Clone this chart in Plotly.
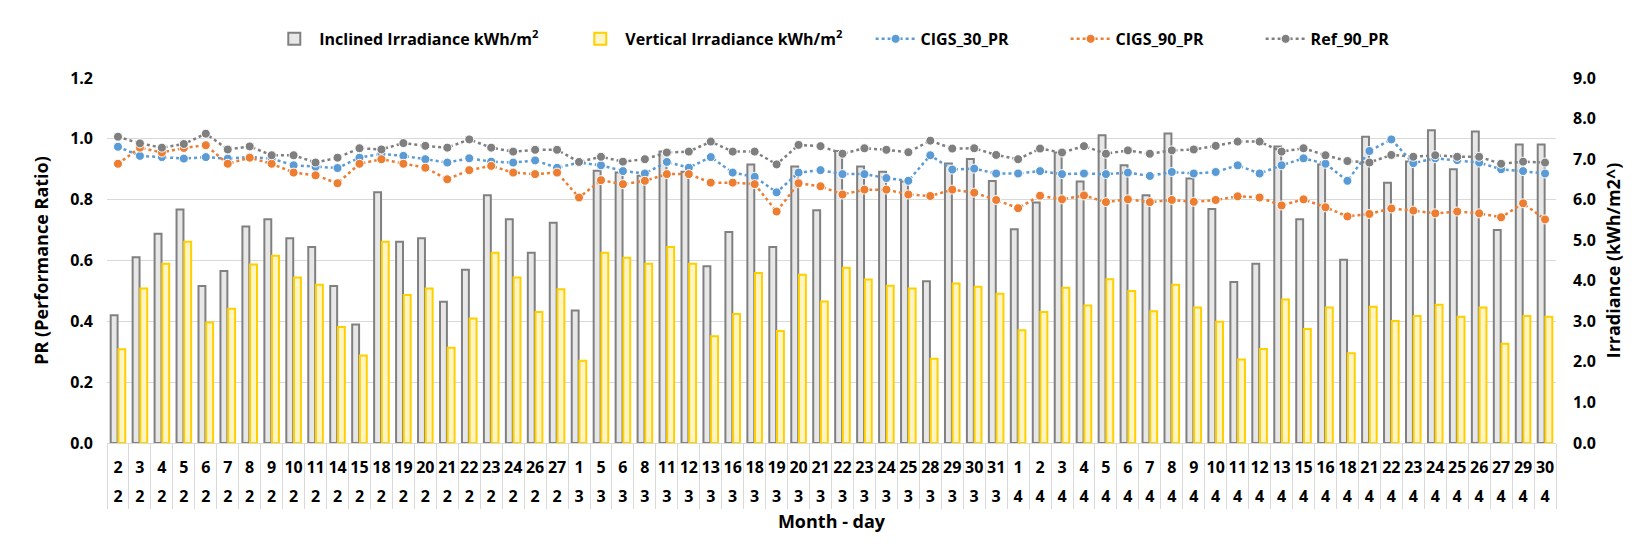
import plotly.graph_objects as go

days = [2, 3, 4, 5, 6, 7, 8, 9, 10, 11, 14, 15, 18, 19, 20, 21, 22, 23, 24, 26, 27,
        1, 5, 6, 8, 11, 12, 13, 16, 18, 19, 20, 21, 22, 23, 24, 25, 28, 29, 30, 31,
        1, 2, 3, 4, 5, 6, 7, 8, 9, 10, 11, 12, 13, 15, 16, 18, 21, 22, 23, 24, 25, 26, 27, 29, 30]
months = [2, 2, 2, 2, 2, 2, 2, 2, 2, 2, 2, 2, 2, 2, 2, 2, 2, 2, 2, 2, 2,
          3, 3, 3, 3, 3, 3, 3, 3, 3, 3, 3, 3, 3, 3, 3, 3, 3, 3, 3, 3,
          4, 4, 4, 4, 4, 4, 4, 4, 4, 4, 4, 4, 4, 4, 4, 4, 4, 4, 4, 4, 4, 4, 4, 4, 4]

inclined = [3.15, 4.58, 5.16, 5.76, 3.87, 4.24, 5.34, 5.52, 5.05, 4.83, 3.87, 2.92, 6.18, 4.96, 5.05, 3.48,
            4.27, 6.11, 5.52, 4.69, 5.43, 3.27, 6.71, 6.67,
            6.59, 7.19, 6.69, 4.36, 5.20, 6.87, 4.83, 6.82, 5.74, 7.20, 6.82, 6.69, 6.45, 3.99, 6.89, 7.00,
            6.46, 5.27, 5.93, 7.16, 6.45,
            7.59, 6.85, 6.11, 7.63, 6.52, 5.77, 3.97, 4.42, 7.31, 5.52, 6.87, 4.52, 7.55, 6.42, 6.94, 7.71,
            6.75, 7.68, 5.25, 7.36, 7.36]
vertical = [2.31, 3.81, 4.42, 4.96, 2.97, 3.31, 4.40, 4.62, 4.08, 3.90, 2.86, 2.16, 4.96, 3.65, 3.81, 2.35,
            3.07, 4.69, 4.08, 3.23, 3.79, 2.03, 4.69, 4.57,
            4.42, 4.83, 4.42, 2.63, 3.18, 4.19, 2.76, 4.15, 3.49, 4.32, 4.03, 3.88, 3.81, 2.08, 3.93, 3.85,
            3.68, 2.78, 3.23, 3.83, 3.39,
            4.04, 3.75, 3.25, 3.90, 3.34, 2.99, 2.06, 2.32, 3.54, 2.81, 3.34, 2.21, 3.36, 3.01, 3.13, 3.41,
            3.11, 3.34, 2.45, 3.13, 3.11]
cigs30 = [0.974, 0.944, 0.940, 0.935, 0.940, 0.935, 0.940, 0.935, 0.913, 0.908, 0.904, 0.938, 0.951, 0.944,
          0.933, 0.922, 0.936, 0.925, 0.922, 0.929, 0.905, 0.922, 0.913, 0.894,
          0.886, 0.924, 0.905, 0.940, 0.889, 0.875, 0.824, 0.889, 0.897, 0.884, 0.884, 0.871, 0.862, 0.946,
          0.899, 0.902, 0.886, 0.886, 0.894, 0.884, 0.886,
          0.884, 0.889, 0.878, 0.891, 0.886, 0.891, 0.913, 0.886, 0.913, 0.936, 0.918, 0.862, 0.960, 0.998,
          0.920, 0.936, 0.930, 0.922, 0.900, 0.894, 0.886]
cigs90 = [0.918, 0.971, 0.955, 0.970, 0.979, 0.918, 0.938, 0.918, 0.889, 0.880, 0.854, 0.918, 0.933, 0.918,
          0.905, 0.867, 0.897, 0.911, 0.889, 0.884, 0.889, 0.807, 0.864, 0.851,
          0.862, 0.884, 0.884, 0.856, 0.856, 0.851, 0.761, 0.854, 0.844, 0.817, 0.833, 0.833, 0.817, 0.812,
          0.833, 0.823, 0.799, 0.772, 0.813, 0.801, 0.814,
          0.792, 0.801, 0.792, 0.799, 0.793, 0.799, 0.811, 0.807, 0.781, 0.801, 0.775, 0.745, 0.753, 0.771,
          0.764, 0.755, 0.761, 0.755, 0.742, 0.788, 0.735]
ref90 = [1.007, 0.985, 0.971, 0.983, 1.017, 0.965, 0.975, 0.946, 0.946, 0.922, 0.938, 0.969, 0.965, 0.986,
         0.977, 0.971, 0.998, 0.971, 0.958, 0.964, 0.964, 0.924, 0.941, 0.925,
         0.933, 0.955, 0.958, 0.991, 0.958, 0.958, 0.916, 0.980, 0.976, 0.951, 0.969, 0.964, 0.956, 0.994,
         0.968, 0.969, 0.947, 0.933, 0.968, 0.955, 0.976,
         0.951, 0.962, 0.951, 0.962, 0.965, 0.977, 0.991, 0.991, 0.958, 0.969, 0.946, 0.927, 0.922, 0.947,
         0.941, 0.946, 0.941, 0.941, 0.918, 0.925, 0.922]

cats = [f"{m}-{d}" for m, d in zip(months, days)]
xrange = [-0.5, len(cats) - 0.5]
FONT = "Open Sans, Arial, sans-serif"

fig = go.Figure()
fig.add_trace(go.Bar(x=cats, y=inclined, name="Inclined Irradiance kWh/m<sup>2</sup>", yaxis="y",
                     legend="legend",
                     marker=dict(color="#E7E7E7", line=dict(color="#808080", width=2))))
fig.add_trace(go.Bar(x=cats, y=vertical, name="Vertical Irradiance kWh/m<sup>2</sup>", yaxis="y",
                     legend="legend",
                     marker=dict(color="#FFF4C4", line=dict(color="#FFD000", width=2))))
for name, vals, col in [("CIGS_30_PR", cigs30, "#5B9BD5"), ("CIGS_90_PR", cigs90, "#ED7D31"),
                        ("Ref_90_PR", ref90, "#7F7F7F")]:
    fig.add_trace(go.Scatter(x=cats, y=vals, name=name, yaxis="y2", mode="lines+markers",
                             legend="legend2",
                             line=dict(color=col, width=2.5, dash="dot"),
                             marker=dict(color=col, size=9, line=dict(color="white", width=1))))
# helper trace that carries the month row axis
fig.add_trace(go.Scatter(x=cats, y=[None] * len(cats), xaxis="x2", yaxis="y", showlegend=False,
                         hoverinfo="skip", mode="markers"))

legfont = dict(family=FONT, size=16, color="#000000", weight="bold")
tickf = dict(family=FONT, size=16, color="#000000", weight="bold")
titlef = dict(family=FONT, size=18, color="#000000", weight="bold")
fig.update_layout(
    width=1649, height=554,
    margin=dict(l=99, r=101, t=70, b=119, autoexpand=False),
    paper_bgcolor="white", plot_bgcolor="white",
    barmode="group", bargap=0.3, bargroupgap=0.1,
    font=dict(family=FONT, size=15, color="#000000"),
    legend=dict(orientation="h", x=0.112, xanchor="left", y=1.107, yanchor="middle",
                font=legfont, traceorder="normal", itemwidth=40,
                entrywidth=251, entrywidthmode="pixels", bgcolor="rgba(0,0,0,0)"),
    legend2=dict(orientation="h", x=0.527, xanchor="left", y=1.107, yanchor="middle",
                 font=legfont, traceorder="normal", itemwidth=40,
                 entrywidth=140, entrywidthmode="pixels", bgcolor="rgba(0,0,0,0)"),
    xaxis=dict(type="category", range=xrange, tickmode="array", tickvals=cats,
               ticktext=[str(d) for d in days], tickangle=0,
               ticks="outside", tickson="boundaries", ticklen=65, tickcolor="#D9D9D9", tickwidth=1,
               ticklabelstandoff=10, showgrid=False, showline=True, linecolor="#D9D9D9",
               tickfont=tickf, automargin=False),
    xaxis2=dict(type="category", overlaying="x", matches="x", anchor="y", side="bottom",
                tickmode="array", tickvals=cats, ticktext=[str(m) for m in months], tickangle=0,
                ticks="", ticklabelstandoff=42, showgrid=False, showline=False,
                tickfont=tickf, automargin=False,
                title=dict(text="Month - day", standoff=9, font=titlef)),
    yaxis=dict(side="right", range=[0, 9], dtick=1, tickformat=".1f", showgrid=False, zeroline=False,
               tickfont=tickf, automargin=False, ticklabelstandoff=16,
               title=dict(text="Irradiance (kWh/m2^)", standoff=12, font=titlef)),
    yaxis2=dict(side="left", overlaying="y", range=[0, 1.2], dtick=0.2, tickformat=".1f",
                showgrid=True, gridcolor="#D9D9D9", gridwidth=1, zeroline=False,
                tickfont=tickf, automargin=False, ticklabelstandoff=13,
                title=dict(text="PR (Performance Ratio)", standoff=16, font=titlef)),
)

fig.write_html("out.html")
